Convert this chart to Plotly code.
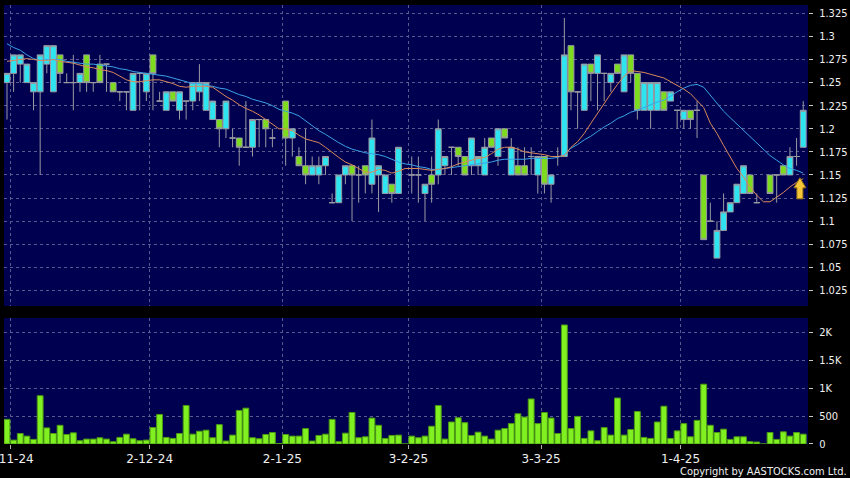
import pandas as pd
import plotly.graph_objects as go

# ---------------- data ----------------
hk_holidays = ["2024-12-25", "2024-12-26", "2025-01-01", "2025-01-29", "2025-01-30",
               "2025-01-31", "2025-04-04", "2025-04-18", "2025-04-21"]
trade_dates = pd.bdate_range("2024-10-31", "2025-04-30", freq="C", holidays=hk_holidays)
day_idx = list(range(len(trade_dates)))

N = None
open_ = [1.25, 1.26, 1.27, 1.25, 1.24, 1.24, 1.27, 1.24, 1.28, 1.25,
         1.25, 1.25, 1.28, 1.25, 1.27, 1.27, 1.25, 1.24, 1.24, 1.22,
         1.26, 1.24, 1.28, 1.23, 1.22, 1.24, 1.22, 1.23, 1.23, 1.24,
         1.22, 1.21, 1.21, 1.20, 1.19, 1.19, 1.18, 1.18, 1.21, 1.21,
         1.19, N, 1.23, 1.19, 1.17, 1.16, 1.15, 1.15, 1.16, 1.12,
         1.12, 1.15, 1.16, 1.15, 1.16, 1.14, 1.15, 1.13, 1.14, 1.13,
         N, 1.15, 1.15, 1.13, 1.15, 1.15, 1.16, 1.18, 1.18, 1.17,
         1.16, 1.16, 1.15, 1.19, 1.17, 1.20, 1.15, 1.16, 1.16, 1.17,
         1.15, 1.17, 1.14, 1.17, 1.17, 1.29, 1.24, 1.22, 1.27, 1.26,
         1.26, 1.25, 1.27, 1.24, 1.28, 1.26, 1.22, 1.22, 1.22, 1.24,
         1.23, 1.22, 1.21, 1.22, 1.22, 1.15, 1.10, 1.06, 1.09, 1.11,
         1.12, 1.13, 1.15, 1.12, N, 1.15, 1.15, 1.16, 1.15, 1.17,
         1.18]
high = [1.26, 1.28, 1.28, 1.27, 1.25, 1.28, 1.29, 1.29, 1.28, 1.26,
        1.28, 1.26, 1.28, 1.25, 1.28, 1.27, 1.25, 1.24, 1.24, 1.26,
        1.26, 1.26, 1.28, 1.24, 1.24, 1.24, 1.24, 1.23, 1.25, 1.27,
        1.25, 1.23, 1.21, 1.23, 1.20, 1.19, 1.23, 1.21, 1.21, 1.21,
        1.20, N, 1.23, 1.20, 1.18, 1.20, 1.17, 1.17, 1.17, 1.13,
        1.15, 1.16, 1.16, 1.16, 1.16, 1.21, 1.16, 1.15, 1.14, 1.18,
        N, 1.17, 1.17, 1.14, 1.17, 1.21, 1.17, 1.18, 1.18, 1.17,
        1.19, 1.17, 1.19, 1.19, 1.20, 1.20, 1.19, 1.18, 1.18, 1.18,
        1.17, 1.17, 1.15, 1.18, 1.32, 1.29, 1.24, 1.27, 1.27, 1.28,
        1.26, 1.26, 1.27, 1.28, 1.28, 1.26, 1.25, 1.25, 1.25, 1.24,
        1.24, 1.22, 1.22, 1.22, 1.23, 1.15, 1.12, 1.10, 1.13, 1.12,
        1.14, 1.16, 1.15, 1.13, N, 1.15, 1.15, 1.16, 1.18, 1.19,
        1.23]
low = [1.21, 1.24, 1.25, 1.25, 1.22, 1.15, 1.26, 1.24, 1.25, 1.25,
       1.22, 1.24, 1.24, 1.24, 1.25, 1.24, 1.24, 1.23, 1.22, 1.22,
       1.22, 1.23, 1.22, 1.23, 1.22, 1.23, 1.21, 1.21, 1.22, 1.23,
       1.22, 1.21, 1.18, 1.19, 1.18, 1.16, 1.18, 1.17, 1.18, 1.18,
       1.18, N, 1.16, 1.17, 1.16, 1.14, 1.15, 1.14, 1.15, 1.12,
       1.12, 1.14, 1.10, 1.12, 1.13, 1.13, 1.11, 1.13, 1.12, 1.13,
       N, 1.13, 1.12, 1.10, 1.12, 1.14, 1.15, 1.15, 1.16, 1.15,
       1.15, 1.15, 1.15, 1.18, 1.16, 1.19, 1.15, 1.15, 1.15, 1.15,
       1.13, 1.13, 1.12, 1.16, 1.17, 1.22, 1.20, 1.22, 1.23, 1.22,
       1.23, 1.24, 1.26, 1.24, 1.25, 1.21, 1.22, 1.20, 1.22, 1.22,
       1.23, 1.20, 1.20, 1.20, 1.19, 1.08, 1.10, 1.06, 1.09, 1.11,
       1.12, 1.13, 1.13, 1.12, N, 1.13, 1.12, 1.15, 1.15, 1.16,
       1.18]
close = [1.26, 1.28, 1.28, 1.27, 1.25, 1.28, 1.29, 1.29, 1.26, 1.25,
         1.25, 1.26, 1.25, 1.25, 1.25, 1.27, 1.24, 1.24, 1.24, 1.26,
         1.26, 1.26, 1.26, 1.23, 1.24, 1.23, 1.24, 1.23, 1.25, 1.25,
         1.25, 1.23, 1.20, 1.23, 1.19, 1.18, 1.18, 1.21, 1.21, 1.20,
         1.19, N, 1.19, 1.20, 1.16, 1.15, 1.16, 1.16, 1.17, 1.12,
         1.15, 1.16, 1.15, 1.15, 1.15, 1.19, 1.16, 1.15, 1.13, 1.18,
         N, 1.15, 1.15, 1.14, 1.14, 1.20, 1.17, 1.18, 1.17, 1.15,
         1.19, 1.17, 1.18, 1.18, 1.20, 1.19, 1.18, 1.15, 1.15, 1.17,
         1.17, 1.14, 1.15, 1.17, 1.28, 1.24, 1.24, 1.27, 1.26, 1.28,
         1.26, 1.26, 1.26, 1.28, 1.26, 1.22, 1.25, 1.25, 1.25, 1.22,
         1.24, 1.22, 1.22, 1.21, 1.22, 1.08, 1.10, 1.09, 1.11, 1.12,
         1.14, 1.16, 1.13, 1.12, N, 1.13, 1.15, 1.15, 1.17, 1.17,
         1.22]

ma10 = [1.273, 1.274, 1.275, 1.276, 1.275, 1.274, 1.274, 1.275, 1.273, 1.272,
        1.271, 1.269, 1.267, 1.266, 1.264, 1.263, 1.261, 1.257, 1.253, 1.251,
        1.251, 1.252, 1.253, 1.253, 1.251, 1.249, 1.246, 1.245, 1.246, 1.246,
        1.246, 1.245, 1.240, 1.235, 1.231, 1.226, 1.222, 1.219, 1.215, 1.210,
        1.205, 1.200, 1.200, 1.198, 1.193, 1.189, 1.187, 1.185, 1.180, 1.174,
        1.169, 1.164, 1.161, 1.157, 1.153, 1.153, 1.156, 1.155, 1.152, 1.154,
        1.157, 1.157, 1.157, 1.156, 1.155, 1.156, 1.157, 1.159, 1.162, 1.164,
        1.166, 1.168, 1.169, 1.173, 1.178, 1.180, 1.180, 1.178, 1.175, 1.174,
        1.173, 1.172, 1.170, 1.170, 1.171, 1.180, 1.186, 1.195, 1.206, 1.217,
        1.227, 1.238, 1.248, 1.257, 1.263, 1.262, 1.261, 1.259, 1.257, 1.255,
        1.251, 1.247, 1.243, 1.238, 1.231, 1.223, 1.206, 1.195, 1.182, 1.170,
        1.157, 1.148, 1.137, 1.128, 1.121, 1.121, 1.126, 1.131, 1.137, 1.142,
        1.146]
ma20 = [1.292, 1.288, 1.285, 1.280, 1.276, 1.274, 1.275, 1.275, 1.275, 1.273,
        1.272, 1.271, 1.270, 1.270, 1.269, 1.268, 1.267, 1.265, 1.264, 1.262,
        1.261, 1.260, 1.259, 1.258, 1.257, 1.255, 1.253, 1.251, 1.249, 1.249,
        1.247, 1.246, 1.244, 1.243, 1.240, 1.237, 1.235, 1.232, 1.230, 1.228,
        1.225, 1.221, 1.219, 1.217, 1.214, 1.209, 1.203, 1.198, 1.194, 1.189,
        1.185, 1.181, 1.178, 1.176, 1.174, 1.173, 1.172, 1.170, 1.167, 1.164,
        1.162, 1.161, 1.159, 1.158, 1.156, 1.156, 1.157, 1.158, 1.159, 1.160,
        1.161, 1.162, 1.163, 1.164, 1.166, 1.167, 1.167, 1.167, 1.167, 1.168,
        1.168, 1.168, 1.168, 1.169, 1.172, 1.179, 1.183, 1.188, 1.192, 1.197,
        1.202, 1.206, 1.211, 1.214, 1.218, 1.220, 1.223, 1.226, 1.229, 1.231,
        1.235, 1.240, 1.244, 1.247, 1.248, 1.245, 1.236, 1.228, 1.219, 1.212,
        1.205, 1.198, 1.191, 1.184, 1.177, 1.171, 1.166, 1.161, 1.157, 1.155,
        1.152]

volume = [441, 70, 188, 141, 82, 864, 288, 188, 335, 170,
          200, 59, 88, 88, 112, 88, 41, 118, 176, 94,
          59, 70, 294, 529, 118, 100, 188, 688, 176, 229,
          247, 112, 347, 53, 159, 600, 641, 112, 94, 170,
          206, 8, 170, 141, 141, 276, 53, 153, 176, 441,
          41, 194, 564, 112, 129, 464, 335, 100, 153, 159,
          0, 141, 112, 141, 318, 688, 88, 394, 470, 382,
          153, 212, 141, 88, 247, 276, 365, 541, 482, 806,
          365, 564, 464, 188, 2130, 276, 494, 100, 235, 59,
          294, 159, 823, 159, 259, 582, 118, 100, 394, 676,
          100, 235, 365, 129, 423, 1070, 335, 206, 265, 82,
          129, 129, 41, 35, 0, 206, 82, 218, 141, 206,
          176]

tick_dates = ["2024-11-01", "2024-12-02", "2025-01-02", "2025-02-03", "2025-03-03", "2025-04-01"]
tick_labels = ["1-11-24", "2-12-24", "2-1-25", "3-2-25", "3-3-25", "1-4-25"]
price_ticks = [1.025, 1.05, 1.075, 1.1, 1.125, 1.15, 1.175, 1.2, 1.225, 1.25, 1.275, 1.3, 1.325]
price_tick_labels = ["1.025", "1.05", "1.075", "1.1", "1.125", "1.15", "1.175", "1.2",
                     "1.225", "1.25", "1.275", "1.3", "1.325"]
vol_ticks = [0, 500, 1000, 1500, 2000]
vol_tick_labels = ["0", "500", "1K", "1.5K", "2K"]
signal_idx = [119.5]
signal_price = [1.135]

# ---------------- styling ----------------
BG = "#000050"
GRID = "#5a5a90"
CYAN = "#2ee4f0"
LIME = "#7ddc1e"
VOL = "#80f020"
VOL_EDGE = "#4c9a12"
OUTLINE = "#9a9aa2"
ORANGE = "#d98a5a"
BLUE = "#3aa2e6"
TXT = "#f0f0f0"

date_pos = {d.strftime("%Y-%m-%d"): i for i, d in enumerate(trade_dates)}
tick_pos = [date_pos[d] - 0.5 for d in tick_dates]

fig = go.Figure()
fig.add_trace(go.Candlestick(
    x=day_idx, open=open_, high=high, low=low, close=close,
    increasing=dict(fillcolor=CYAN, line=dict(color=OUTLINE, width=1)),
    decreasing=dict(fillcolor=LIME, line=dict(color=OUTLINE, width=1)),
    whiskerwidth=0, showlegend=False, hoverinfo="skip", xaxis="x", yaxis="y"))
fig.add_trace(go.Scatter(x=day_idx, y=ma20, mode="lines", line=dict(color=BLUE, width=1),
                         showlegend=False, hoverinfo="skip", xaxis="x", yaxis="y"))
fig.add_trace(go.Scatter(x=day_idx, y=ma10, mode="lines", line=dict(color=ORANGE, width=1),
                         showlegend=False, hoverinfo="skip", xaxis="x", yaxis="y"))
fig.add_trace(go.Bar(x=day_idx, y=volume, marker=dict(color=VOL, line=dict(color=VOL_EDGE, width=1)),
                     showlegend=False, hoverinfo="skip", xaxis="x2", yaxis="y2"))

# signal arrow (pixel-sized glyph anchored at the data point)
for sx, sy in zip(signal_idx, signal_price):
    fig.add_shape(type="path", xref="x", yref="y", xsizemode="pixel", ysizemode="pixel",
                  xanchor=sx, yanchor=sy,
                  path="M 0 11 L 6 1 L 3 1 L 3 -10 L -3 -10 L -3 1 L -6 1 Z",
                  fillcolor="#f6c63a", line=dict(color="#9a7410", width=1), layer="above")

x_range = [-0.45, 120.72]
common_x = dict(range=x_range, tickvals=tick_pos, showgrid=True, gridcolor=GRID, griddash="3px,3px",
                gridwidth=1, zeroline=False, showline=False)
fig.update_layout(
    width=850, height=478,
    margin=dict(l=4, r=42, t=5, b=34, autoexpand=False),
    paper_bgcolor="black", plot_bgcolor=BG,
    bargap=0.12, boxgap=0.12, boxgroupgap=0,
    xaxis=dict(**common_x, anchor="y", showticklabels=False, ticks="",
               rangeslider=dict(visible=False)),
    xaxis2=dict(**common_x, anchor="y2", matches="x", ticktext=tick_labels, ticks="outside",
                ticklen=4, tickcolor="#b0b0b0", ticklabeloverflow="allow",
                tickfont=dict(family="DejaVu Sans", size=12, color=TXT)),
    yaxis=dict(domain=[0.3144, 1], range=[1.0082, 1.334], side="right",
               tickvals=price_ticks, ticktext=price_tick_labels, ticks="outside", ticklen=4,
               tickcolor="#c8c8c8", showgrid=True, gridcolor=GRID, griddash="3px,3px",
               zeroline=False, showline=False, ticklabelstandoff=4,
               tickfont=dict(family="DejaVu Sans Condensed", size=11, color=TXT)),
    yaxis2=dict(domain=[0, 0.287], range=[0, 2255], side="right",
                tickvals=vol_ticks, ticktext=vol_tick_labels, ticks="outside", ticklen=4,
                tickcolor="#c8c8c8", showgrid=True, gridcolor=GRID, griddash="3px,3px",
                zeroline=False, showline=False, ticklabelstandoff=4,
                tickfont=dict(family="DejaVu Sans Condensed", size=11, color=TXT)),
    annotations=[dict(text="Copyright by AASTOCKS.com Ltd.", xref="paper", yref="paper",
                      x=1.051, y=-0.063, xanchor="right", yanchor="middle", showarrow=False,
                      font=dict(family="DejaVu Sans Condensed", size=11, color=TXT))],
)

fig.write_html("out.html", config={"displayModeBar": False},
               post_script="document.body.style.margin='0';document.body.style.overflow='hidden';")
